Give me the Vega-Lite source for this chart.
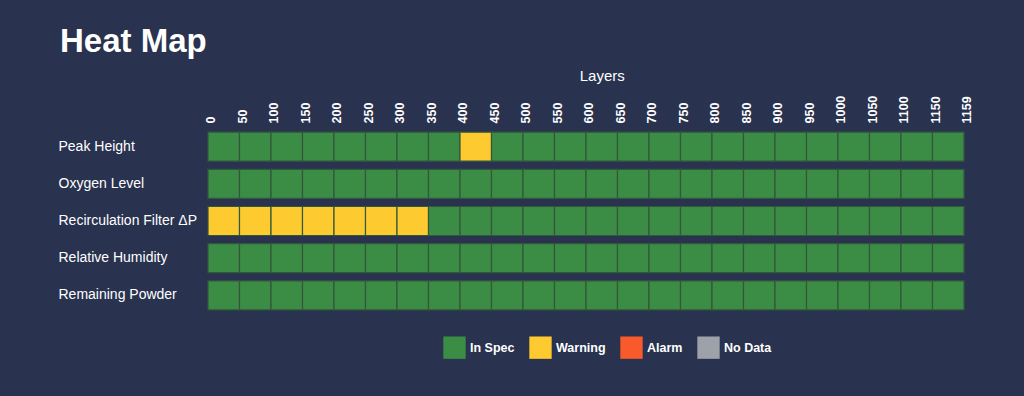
{
  "$schema": "https://vega.github.io/schema/vega-lite/v6.json",
  "autosize": "none",
  "width": 787.5,
  "height": 186,
  "padding": {"left": 208, "top": 128, "right": 28.5, "bottom": 82},
  "background": "#29324f",
  "title": {
    "text": "Heat Map",
    "anchor": "start",
    "frame": "group",
    "dx": -148,
    "fontSize": 33,
    "font": "Liberation Sans",
    "fontWeight": 600,
    "color": "#ffffff",
    "offset": 9
  },
  "data": {
    "values": [
      {"param": "Peak Height", "layer": 0, "status": "In Spec"},
      {"param": "Peak Height", "layer": 50, "status": "In Spec"},
      {"param": "Peak Height", "layer": 100, "status": "In Spec"},
      {"param": "Peak Height", "layer": 150, "status": "In Spec"},
      {"param": "Peak Height", "layer": 200, "status": "In Spec"},
      {"param": "Peak Height", "layer": 250, "status": "In Spec"},
      {"param": "Peak Height", "layer": 300, "status": "In Spec"},
      {"param": "Peak Height", "layer": 350, "status": "In Spec"},
      {"param": "Peak Height", "layer": 400, "status": "Warning"},
      {"param": "Peak Height", "layer": 450, "status": "In Spec"},
      {"param": "Peak Height", "layer": 500, "status": "In Spec"},
      {"param": "Peak Height", "layer": 550, "status": "In Spec"},
      {"param": "Peak Height", "layer": 600, "status": "In Spec"},
      {"param": "Peak Height", "layer": 650, "status": "In Spec"},
      {"param": "Peak Height", "layer": 700, "status": "In Spec"},
      {"param": "Peak Height", "layer": 750, "status": "In Spec"},
      {"param": "Peak Height", "layer": 800, "status": "In Spec"},
      {"param": "Peak Height", "layer": 850, "status": "In Spec"},
      {"param": "Peak Height", "layer": 900, "status": "In Spec"},
      {"param": "Peak Height", "layer": 950, "status": "In Spec"},
      {"param": "Peak Height", "layer": 1000, "status": "In Spec"},
      {"param": "Peak Height", "layer": 1050, "status": "In Spec"},
      {"param": "Peak Height", "layer": 1100, "status": "In Spec"},
      {"param": "Peak Height", "layer": 1150, "status": "In Spec"},
      {"param": "Oxygen Level", "layer": 0, "status": "In Spec"},
      {"param": "Oxygen Level", "layer": 50, "status": "In Spec"},
      {"param": "Oxygen Level", "layer": 100, "status": "In Spec"},
      {"param": "Oxygen Level", "layer": 150, "status": "In Spec"},
      {"param": "Oxygen Level", "layer": 200, "status": "In Spec"},
      {"param": "Oxygen Level", "layer": 250, "status": "In Spec"},
      {"param": "Oxygen Level", "layer": 300, "status": "In Spec"},
      {"param": "Oxygen Level", "layer": 350, "status": "In Spec"},
      {"param": "Oxygen Level", "layer": 400, "status": "In Spec"},
      {"param": "Oxygen Level", "layer": 450, "status": "In Spec"},
      {"param": "Oxygen Level", "layer": 500, "status": "In Spec"},
      {"param": "Oxygen Level", "layer": 550, "status": "In Spec"},
      {"param": "Oxygen Level", "layer": 600, "status": "In Spec"},
      {"param": "Oxygen Level", "layer": 650, "status": "In Spec"},
      {"param": "Oxygen Level", "layer": 700, "status": "In Spec"},
      {"param": "Oxygen Level", "layer": 750, "status": "In Spec"},
      {"param": "Oxygen Level", "layer": 800, "status": "In Spec"},
      {"param": "Oxygen Level", "layer": 850, "status": "In Spec"},
      {"param": "Oxygen Level", "layer": 900, "status": "In Spec"},
      {"param": "Oxygen Level", "layer": 950, "status": "In Spec"},
      {"param": "Oxygen Level", "layer": 1000, "status": "In Spec"},
      {"param": "Oxygen Level", "layer": 1050, "status": "In Spec"},
      {"param": "Oxygen Level", "layer": 1100, "status": "In Spec"},
      {"param": "Oxygen Level", "layer": 1150, "status": "In Spec"},
      {"param": "Recirculation Filter ΔP", "layer": 0, "status": "Warning"},
      {"param": "Recirculation Filter ΔP", "layer": 50, "status": "Warning"},
      {"param": "Recirculation Filter ΔP", "layer": 100, "status": "Warning"},
      {"param": "Recirculation Filter ΔP", "layer": 150, "status": "Warning"},
      {"param": "Recirculation Filter ΔP", "layer": 200, "status": "Warning"},
      {"param": "Recirculation Filter ΔP", "layer": 250, "status": "Warning"},
      {"param": "Recirculation Filter ΔP", "layer": 300, "status": "Warning"},
      {"param": "Recirculation Filter ΔP", "layer": 350, "status": "In Spec"},
      {"param": "Recirculation Filter ΔP", "layer": 400, "status": "In Spec"},
      {"param": "Recirculation Filter ΔP", "layer": 450, "status": "In Spec"},
      {"param": "Recirculation Filter ΔP", "layer": 500, "status": "In Spec"},
      {"param": "Recirculation Filter ΔP", "layer": 550, "status": "In Spec"},
      {"param": "Recirculation Filter ΔP", "layer": 600, "status": "In Spec"},
      {"param": "Recirculation Filter ΔP", "layer": 650, "status": "In Spec"},
      {"param": "Recirculation Filter ΔP", "layer": 700, "status": "In Spec"},
      {"param": "Recirculation Filter ΔP", "layer": 750, "status": "In Spec"},
      {"param": "Recirculation Filter ΔP", "layer": 800, "status": "In Spec"},
      {"param": "Recirculation Filter ΔP", "layer": 850, "status": "In Spec"},
      {"param": "Recirculation Filter ΔP", "layer": 900, "status": "In Spec"},
      {"param": "Recirculation Filter ΔP", "layer": 950, "status": "In Spec"},
      {"param": "Recirculation Filter ΔP", "layer": 1000, "status": "In Spec"},
      {"param": "Recirculation Filter ΔP", "layer": 1050, "status": "In Spec"},
      {"param": "Recirculation Filter ΔP", "layer": 1100, "status": "In Spec"},
      {"param": "Recirculation Filter ΔP", "layer": 1150, "status": "In Spec"},
      {"param": "Relative Humidity", "layer": 0, "status": "In Spec"},
      {"param": "Relative Humidity", "layer": 50, "status": "In Spec"},
      {"param": "Relative Humidity", "layer": 100, "status": "In Spec"},
      {"param": "Relative Humidity", "layer": 150, "status": "In Spec"},
      {"param": "Relative Humidity", "layer": 200, "status": "In Spec"},
      {"param": "Relative Humidity", "layer": 250, "status": "In Spec"},
      {"param": "Relative Humidity", "layer": 300, "status": "In Spec"},
      {"param": "Relative Humidity", "layer": 350, "status": "In Spec"},
      {"param": "Relative Humidity", "layer": 400, "status": "In Spec"},
      {"param": "Relative Humidity", "layer": 450, "status": "In Spec"},
      {"param": "Relative Humidity", "layer": 500, "status": "In Spec"},
      {"param": "Relative Humidity", "layer": 550, "status": "In Spec"},
      {"param": "Relative Humidity", "layer": 600, "status": "In Spec"},
      {"param": "Relative Humidity", "layer": 650, "status": "In Spec"},
      {"param": "Relative Humidity", "layer": 700, "status": "In Spec"},
      {"param": "Relative Humidity", "layer": 750, "status": "In Spec"},
      {"param": "Relative Humidity", "layer": 800, "status": "In Spec"},
      {"param": "Relative Humidity", "layer": 850, "status": "In Spec"},
      {"param": "Relative Humidity", "layer": 900, "status": "In Spec"},
      {"param": "Relative Humidity", "layer": 950, "status": "In Spec"},
      {"param": "Relative Humidity", "layer": 1000, "status": "In Spec"},
      {"param": "Relative Humidity", "layer": 1050, "status": "In Spec"},
      {"param": "Relative Humidity", "layer": 1100, "status": "In Spec"},
      {"param": "Relative Humidity", "layer": 1150, "status": "In Spec"},
      {"param": "Remaining Powder", "layer": 0, "status": "In Spec"},
      {"param": "Remaining Powder", "layer": 50, "status": "In Spec"},
      {"param": "Remaining Powder", "layer": 100, "status": "In Spec"},
      {"param": "Remaining Powder", "layer": 150, "status": "In Spec"},
      {"param": "Remaining Powder", "layer": 200, "status": "In Spec"},
      {"param": "Remaining Powder", "layer": 250, "status": "In Spec"},
      {"param": "Remaining Powder", "layer": 300, "status": "In Spec"},
      {"param": "Remaining Powder", "layer": 350, "status": "In Spec"},
      {"param": "Remaining Powder", "layer": 400, "status": "In Spec"},
      {"param": "Remaining Powder", "layer": 450, "status": "In Spec"},
      {"param": "Remaining Powder", "layer": 500, "status": "In Spec"},
      {"param": "Remaining Powder", "layer": 550, "status": "In Spec"},
      {"param": "Remaining Powder", "layer": 600, "status": "In Spec"},
      {"param": "Remaining Powder", "layer": 650, "status": "In Spec"},
      {"param": "Remaining Powder", "layer": 700, "status": "In Spec"},
      {"param": "Remaining Powder", "layer": 750, "status": "In Spec"},
      {"param": "Remaining Powder", "layer": 800, "status": "In Spec"},
      {"param": "Remaining Powder", "layer": 850, "status": "In Spec"},
      {"param": "Remaining Powder", "layer": 900, "status": "In Spec"},
      {"param": "Remaining Powder", "layer": 950, "status": "In Spec"},
      {"param": "Remaining Powder", "layer": 1000, "status": "In Spec"},
      {"param": "Remaining Powder", "layer": 1050, "status": "In Spec"},
      {"param": "Remaining Powder", "layer": 1100, "status": "In Spec"},
      {"param": "Remaining Powder", "layer": 1150, "status": "In Spec"}
    ]
  },
  "mark": {"type": "rect", "stroke": "#33573d", "strokeWidth": 1.2},
  "encoding": {
    "x": {
      "field": "layer",
      "type": "ordinal",
      "scale": {
        "domain": [0, 50, 100, 150, 200, 250, 300, 350, 400, 450, 500, 550, 600, 650, 700, 750, 800, 850, 900, 950, 1000, 1050, 1100, 1150, 1159],
        "paddingInner": 0,
        "paddingOuter": 0
      },
      "axis": {
        "orient": "top",
        "labelAngle": -90,
        "labelOffset": -12.5,
        "labelPadding": 5,
        "ticks": false,
        "domain": false,
        "labelFont": "Liberation Sans",
        "labelFontSize": 12.5,
        "labelFontWeight": "bold",
        "labelColor": "#ffffff",
        "labelOverlap": false,
        "title": "Layers",
        "titleFont": "Liberation Sans",
        "titleFontSize": 15,
        "titleFontWeight": "normal",
        "titleColor": "#ffffff",
        "titlePadding": 12
      }
    },
    "y": {
      "field": "param",
      "type": "nominal",
      "sort": ["Peak Height", "Oxygen Level", "Recirculation Filter ΔP", "Relative Humidity", "Remaining Powder"],
      "scale": {"paddingInner": 0.22, "paddingOuter": 0.11},
      "axis": {
        "title": null,
        "ticks": false,
        "domain": false,
        "labelAlign": "left",
        "labelPadding": 150,
        "labelFont": "Liberation Sans",
        "labelFontSize": 14,
        "labelColor": "#ffffff",
        "labelLimit": 200
      }
    },
    "color": {
      "field": "status",
      "type": "nominal",
      "scale": {
        "domain": ["In Spec", "Warning", "Alarm", "No Data"],
        "range": ["#3b8c45", "#fdcb2f", "#f95a2c", "#9ca1aa"]
      },
      "legend": {
        "title": null,
        "orient": "none",
        "direction": "horizontal",
        "legendX": 235,
        "legendY": 208,
        "symbolType": "square",
        "symbolSize": 500,
        "symbolStrokeWidth": 0,
        "symbolOpacity": 1,
        "labelFont": "Liberation Sans",
        "labelFontSize": 12.5,
        "labelFontWeight": "bold",
        "labelColor": "#ffffff",
        "labelOffset": 4,
        "columnPadding": 14
      }
    }
  },
  "config": {"view": {"stroke": null}}
}
